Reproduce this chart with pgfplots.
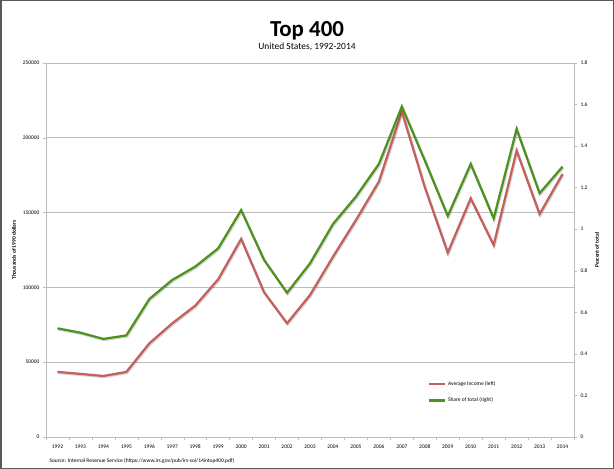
\documentclass[border=0pt]{standalone}
\usepackage{pgfplots}
\pgfplotsset{compat=1.18}
\usepackage{fontspec}
\setmainfont{Carlito}
\definecolor{incred}{RGB}{196,96,92}
\definecolor{sharegreen}{RGB}{78,146,30}
\definecolor{axgray}{RGB}{190,190,190}
\begin{document}
\begin{tikzpicture}
\useasboundingbox (0,0) rectangle (614bp,469bp);
\fill[white] (0,0) rectangle (614bp,469bp);
\draw[line width=1.5bp, black!65] (0.75bp,0.75bp) rectangle (613.25bp,468.25bp);
\node[font=\fontsize{23}{26}\selectfont\bfseries] at (307bp,438bp) {Top 400};
\node[font=\fontsize{9.5}{11}\selectfont] at (307bp,422bp) {United States, 1992-2014};
\node[font=\fontsize{5.5}{6.5}\selectfont, anchor=west] at (46bp,8bp) {Source: Internal Revenue Service (https://www.irs.gov/pub/irs-soi/14intop400.pdf)};
\begin{axis}[
  at={(46bp,32bp)}, anchor=south west,
  scale only axis, width=528bp, height=374bp,
  xmin=-0.5, xmax=22.5, ymin=0, ymax=250000,
  xtick={0,...,22},
  xticklabels={1992,1993,1994,1995,1996,1997,1998,1999,2000,2001,2002,2003,2004,2005,2006,2007,2008,2009,2010,2011,2012,2013,2014},
  minor xtick={-0.5,0.5,...,22.5},
  xtick pos=bottom, ytick pos=left,
  major x tick style={draw=none},
  minor tick length=3bp, major tick length=3bp,
  tick align=outside,
  every tick/.style={axgray},
  ytick={0,50000,...,250000},
  scaled y ticks=false,
  yticklabel style={/pgf/number format/fixed, /pgf/number format/set thousands separator={}},
  /pgf/number format/assume math mode=true,
  tick label style={font=\fontsize{5.5}{6.5}\selectfont},
  xticklabel style={yshift=-1bp},
  ymajorgrids, grid style={axgray, line width=0.6bp},
  axis line style={axgray, line width=0.8bp},
  ylabel={\bfseries Thousands of 1990 dollars},
  every axis y label/.style={at={(axis description cs:-0.0606,0.5)}, rotate=90, anchor=center, font=\fontsize{5.5}{6.5}\selectfont},
]
\addplot[black, opacity=0.18, line width=2.4bp, transform canvas={xshift=0.8bp,yshift=-1bp}] coordinates {
(0,43500)(1,42200)(2,40800)(3,43500)(4,62600)(5,76000)(6,87800)(7,105400)(8,132400)(9,96700)(10,76000)(11,94900)(12,120500)(13,145000)(14,170700)(15,217500)(16,167000)(17,123200)(18,159500)(19,128300)(20,191400)(21,149000)(22,175800)};
\addplot[incred, line width=2.2bp] coordinates {
(0,43500)(1,42200)(2,40800)(3,43500)(4,62600)(5,76000)(6,87800)(7,105400)(8,132400)(9,96700)(10,76000)(11,94900)(12,120500)(13,145000)(14,170700)(15,217500)(16,167000)(17,123200)(18,159500)(19,128300)(20,191400)(21,149000)(22,175800)};
\end{axis}
\begin{axis}[
  at={(46bp,32bp)}, anchor=south west,
  scale only axis, width=528bp, height=374bp,
  xmin=-0.5, xmax=22.5, ymin=0, ymax=1.8,
  axis x line=none,
  axis y line*=right,
  ytick={0,0.2,...,1.8},
  tick align=outside, major tick length=3bp,
  every tick/.style={axgray},
  /pgf/number format/assume math mode=true,
  yticklabel style={/pgf/number format/fixed, /pgf/number format/precision=1},
  tick label style={font=\fontsize{5.5}{6.5}\selectfont},
  axis line style={axgray, line width=0.8bp},
  ylabel={\bfseries Percent of total},
  every axis y label/.style={at={(axis description cs:1.0436,0.5)}, rotate=90, anchor=center, font=\fontsize{5.5}{6.5}\selectfont},
  legend style={at={(axis description cs:0.718,0.16)}, anchor=north west, draw=none, fill=none,
    font=\fontsize{5.5}{6.5}\selectfont, row sep=7bp},
  legend cell align=left,
  legend image post style={line width=2.2bp},
  legend image code/.code={\draw[#1] (0cm,0cm) -- (0.55cm,0cm);},
]
\addlegendimage{incred, line width=2.2bp}
\addlegendentry{Average Income (left)}
\addplot[black, opacity=0.18, line width=2.4bp, transform canvas={xshift=0.8bp,yshift=-1bp}, forget plot] coordinates {
(0,0.523)(1,0.502)(2,0.472)(3,0.489)(4,0.664)(5,0.756)(6,0.820)(7,0.908)(8,1.092)(9,0.852)(10,0.694)(11,0.836)(12,1.025)(13,1.157)(14,1.314)(15,1.590)(16,1.331)(17,1.064)(18,1.314)(19,1.052)(20,1.482)(21,1.173)(22,1.301)};
\addplot[sharegreen, line width=2.2bp] coordinates {
(0,0.523)(1,0.502)(2,0.472)(3,0.489)(4,0.664)(5,0.756)(6,0.820)(7,0.908)(8,1.092)(9,0.852)(10,0.694)(11,0.836)(12,1.025)(13,1.157)(14,1.314)(15,1.590)(16,1.331)(17,1.064)(18,1.314)(19,1.052)(20,1.482)(21,1.173)(22,1.301)};
\addlegendentry{Share of total (right)}
\end{axis}
\end{tikzpicture}
\end{document}
